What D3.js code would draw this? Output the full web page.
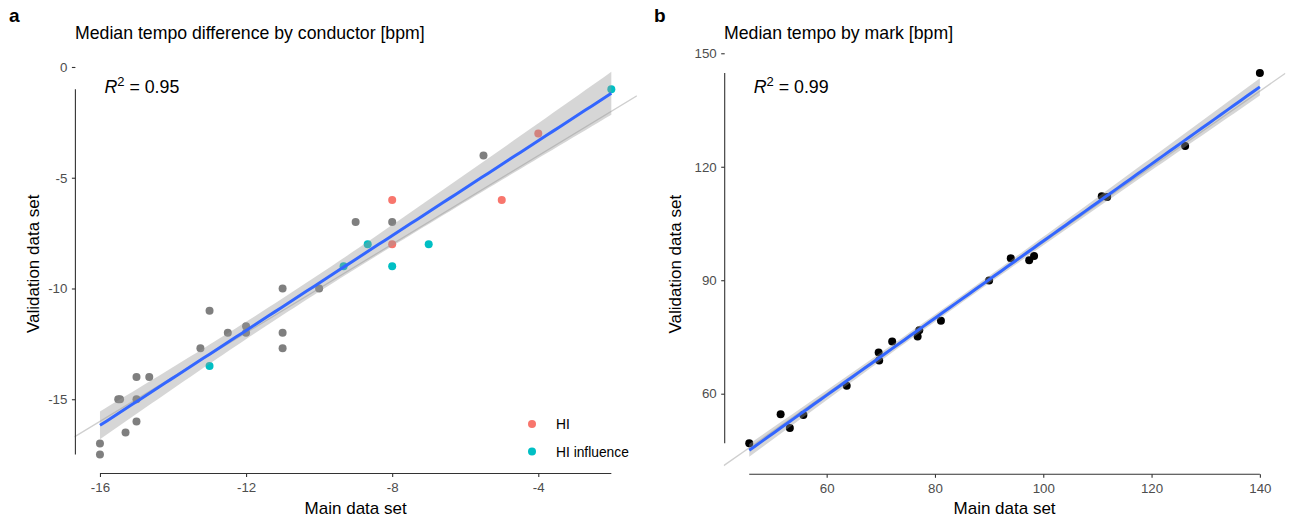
<!DOCTYPE html>
<html>
<head>
<meta charset="utf-8">
<script src="https://cdn.jsdelivr.net/npm/d3@7"></script>
<style>
  html, body { margin: 0; padding: 0; background: #ffffff; }
  svg { display: block; font-family: "Liberation Sans", Arial, Helvetica, sans-serif; }
</style>
</head>
<body>
<svg id="chart" width="1290" height="521"></svg>
<script>
// ---------------- DATA ----------------
// Panel a: median tempo difference by conductor [bpm]
const mainA  = [-16, -16, -15.5, -15.45, -15.3, -15, -15, -15, -14.65, -13.25, -13, -12.5, -12, -12, -11, -11, -11, -10, -9, -8, -5.5,
                -8, -8, -5, -4,
                -13, -9.33, -8.67, -8, -7, -2];
const validA = [-17, -17.5, -15, -15, -16.5, -14, -15, -16, -14, -12.7, -11, -12, -11.7, -12, -12, -12.7, -10, -10, -7, -7, -4,
                -6, -8, -6, -3,
                -13.5, -9, -8, -9, -8, -1];
const groupA = ["other","other","other","other","other","other","other","other","other","other","other","other","other","other","other","other","other","other","other","other","other",
                "HI","HI","HI","HI",
                "HI influence","HI influence","HI influence","HI influence","HI influence","HI influence"];
const legendGroups = ["HI", "HI influence"];
const xTicksA = [-16, -12, -8, -4];
const yTicksA = [0, -5, -10, -15];

// Panel b: median tempo by mark [bpm]
const mainB  = [45.7, 51.5, 53.2, 55.7, 63.7, 69.6, 69.7, 72.1, 76.8, 77.1, 81.1, 90.0, 94.0, 97.4, 98.3, 110.8, 111.8, 126.2, 140.0];
const validB = [46.9, 54.6, 50.9, 54.4, 62.1, 70.9, 68.8, 73.8, 75.1, 76.8, 79.3, 89.9, 95.8, 95.3, 96.4, 112.2, 112.0, 125.5, 144.8];
const xTicksB = [60, 80, 100, 120, 140];
const yTicksB = [60, 90, 120, 150];

const panelLetters = ["a", "b"];
const panelTitles = ["Median tempo difference by conductor [bpm]", "Median tempo by mark [bpm]"];
const r2Values = ["0.95", "0.99"];
const xTitle = "Main data set";
const yTitle = "Validation data set";

// ---------------- HELPERS ----------------
const svg = d3.select("#chart");
const colorMap = { "other": "#7f7f7f", "HI": "#F8766D", "HI influence": "#00BFC4" };

function tQuantile975(df) {
  const z = 1.959963985;
  const g1 = (Math.pow(z,3) + z) / 4;
  const g2 = (5*Math.pow(z,5) + 16*Math.pow(z,3) + 3*z) / 96;
  const g3 = (3*Math.pow(z,7) + 19*Math.pow(z,5) + 17*Math.pow(z,3) - 15*z) / 384;
  return z + g1/df + g2/(df*df) + g3/(df*df*df);
}

function fitLm(xs, ys) {
  const n = xs.length;
  const mx = d3.mean(xs), my = d3.mean(ys);
  let sxx = 0, sxy = 0;
  for (let i = 0; i < n; i++) { sxx += (xs[i]-mx)*(xs[i]-mx); sxy += (xs[i]-mx)*(ys[i]-my); }
  const b = sxy / sxx, a = my - b*mx;
  let sse = 0;
  for (let i = 0; i < n; i++) { const r = ys[i] - (a + b*xs[i]); sse += r*r; }
  const s = Math.sqrt(sse / (n - 2));
  const t = tQuantile975(n - 2);
  const [x0, x1] = d3.extent(xs);
  const grid = d3.range(80).map(i => x0 + (x1 - x0) * i / 79);
  return grid.map(x => {
    const fit = a + b*x;
    const se = s * Math.sqrt(1/n + (x-mx)*(x-mx)/sxx);
    return { x, y: fit, lo: fit - t*se, hi: fit + t*se };
  });
}

function drawPanel(cfg) {
  const { xs, ys, groups, x, y, xTicks, yTicks, letter, title, r2, letterX, titleX, yTitleX, pointColor } = cfg;
  const g = svg.append("g");
  const [px0, px1] = x.range();
  const [py0, py1] = y.range(); // py0 bottom, py1 top

  // clip to panel
  const clipId = "clip-" + letter;
  svg.append("defs").append("clipPath").attr("id", clipId)
    .append("rect").attr("x", px0).attr("y", py1).attr("width", px1 - px0).attr("height", py0 - py1);

  // identity line y = x
  const xd = x.domain();
  g.append("line")
    .attr("clip-path", `url(#${clipId})`)
    .attr("x1", x(xd[0])).attr("y1", y(xd[0]))
    .attr("x2", x(xd[1])).attr("y2", y(xd[1]))
    .attr("stroke", "#cfcfcf").attr("stroke-width", 1.3);

  // points
  const data = xs.map((v, i) => ({ x: v, y: ys[i], g: groups ? groups[i] : null }));
  g.append("g").selectAll("circle").data(data).join("circle")
    .attr("cx", d => x(d.x)).attr("cy", d => y(d.y))
    .attr("r", 4)
    .attr("fill", d => d.g ? colorMap[d.g] : pointColor);

  // smooth band + line
  const fitData = fitLm(xs, ys);
  g.append("path").datum(fitData)
    .attr("d", d3.area().x(d => x(d.x)).y0(d => y(d.lo)).y1(d => y(d.hi)))
    .attr("fill", "#999999").attr("fill-opacity", 0.4);
  g.append("path").datum(fitData)
    .attr("d", d3.line().x(d => x(d.x)).y(d => y(d.y)))
    .attr("fill", "none").attr("stroke", "#3366FF").attr("stroke-width", 3);

  // axes
  const axisX = px0 + 1;
  const xAxis = d3.axisBottom(x).tickValues(xTicks).tickSize(3.5).tickPadding(6).tickFormat(d => String(d));
  const yAxis = d3.axisLeft(y).tickValues(yTicks).tickSize(3.5).tickPadding(4.5).tickFormat(d => String(d));
  const gx = g.append("g").attr("transform", `translate(0,${py0 - 0.5})`).call(xAxis);
  const gy = g.append("g").attr("transform", `translate(${axisX},0)`).call(yAxis);
  [gx, gy].forEach(ax => {
    ax.select(".domain").remove();
    ax.selectAll(".tick line").attr("stroke", "#333333").attr("stroke-width", 1.1);
    ax.selectAll(".tick text").attr("fill", "#4D4D4D").attr("font-size", 13.3)
      .attr("font-family", "'Liberation Sans', Arial, sans-serif");
  });
  // capped axis lines (data range)
  const [xmin, xmax] = d3.extent(xs);
  const [ymin, ymax] = d3.extent(ys);
  g.append("line").attr("x1", x(xmin)).attr("x2", x(xmax))
    .attr("y1", py0 - 0.5).attr("y2", py0 - 0.5)
    .attr("stroke", "#333333").attr("stroke-width", 1.1);
  g.append("line").attr("x1", axisX).attr("x2", axisX)
    .attr("y1", y(ymin)).attr("y2", y(ymax))
    .attr("stroke", "#333333").attr("stroke-width", 1.1);

  // titles
  svg.append("text").attr("x", letterX).attr("y", 22).attr("font-size", 19).attr("font-weight", "bold")
    .attr("fill", "#000").text(letter);
  svg.append("text").attr("x", titleX).attr("y", 39).attr("font-size", 17.7).attr("fill", "#000").text(title);
  svg.append("text").attr("x", (px0 + px1) / 2).attr("y", 514).attr("text-anchor", "middle")
    .attr("font-size", 17).attr("fill", "#000").text(xTitle);
  svg.append("text").attr("transform", `translate(${yTitleX},${(py0 + py1) / 2 + 3}) rotate(-90)`)
    .attr("text-anchor", "middle").attr("font-size", 17).attr("fill", "#000").text(yTitle);

  // R^2 annotation
  const t = svg.append("text").attr("x", axisX + 29).attr("y", 93).attr("font-size", 17.8).attr("fill", "#000");
  t.append("tspan").attr("font-style", "italic").text("R");
  t.append("tspan").attr("font-size", 13).attr("dy", -7.5).text("2");
  t.append("tspan").attr("dy", 7.5).text(" = " + r2);
  return g;
}

// ---------------- PANEL A ----------------
const xA = d3.scaleLinear().domain([-16.7, -1.3]).range([74.4, 636.9]);
const yA = d3.scaleLinear().domain([-18.375, 0.875]).range([474, 47.6]);
drawPanel({ xs: mainA, ys: validA, groups: groupA, x: xA, y: yA, xTicks: xTicksA, yTicks: yTicksA,
  letter: panelLetters[0], title: panelTitles[0], r2: r2Values[0], letterX: 9, titleX: 75, yTitleX: 39 });

// legend
const leg = svg.append("g");
legendGroups.forEach((grp, i) => {
  leg.append("circle").attr("cx", 532).attr("cy", 424 + i * 27.5).attr("r", 4).attr("fill", colorMap[grp]);
  leg.append("text").attr("x", 556).attr("y", 429 + i * 27.5).attr("font-size", 13.8).attr("fill", "#000").text(grp);
});

// ---------------- PANEL B ----------------
const xB = d3.scaleLinear().domain([40.985, 144.715]).range([723.7, 1285.4]);
const yB = d3.scaleLinear().domain([38.56, 151.5]).range([474.8, 47.6]);
drawPanel({ xs: mainB, ys: validB, groups: null, x: xB, y: yB, xTicks: xTicksB, yTicks: yTicksB,
  letter: panelLetters[1], title: panelTitles[1], r2: r2Values[1], letterX: 654, titleX: 724, yTitleX: 681, pointColor: "#000000" });
</script>
</body>
</html>
